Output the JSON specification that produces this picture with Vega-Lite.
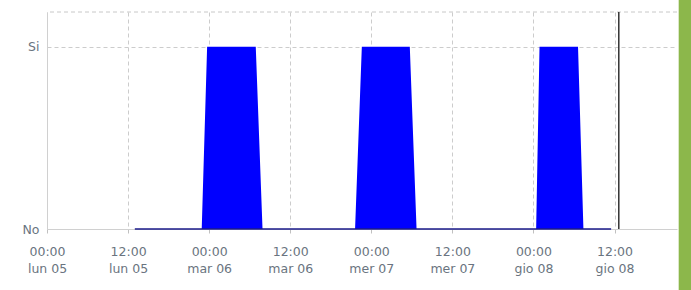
{
  "$schema": "https://vega.github.io/schema/vega-lite/v6.json",
  "autosize": "none",
  "width": 630,
  "height": 217,
  "padding": {"left": 47, "top": 12, "right": 14, "bottom": 61},
  "background": "white",
  "config": {
    "view": {"stroke": null},
    "font": "DejaVu Sans"
  },
  "data": {
    "values": [
      {"t": "2022-09-05T13:00:00Z", "v": 0},
      {"t": "2022-09-05T22:54:00Z", "v": 0},
      {"t": "2022-09-05T23:42:00Z", "v": 1},
      {"t": "2022-09-06T06:54:00Z", "v": 1},
      {"t": "2022-09-06T07:54:00Z", "v": 0},
      {"t": "2022-09-06T21:36:00Z", "v": 0},
      {"t": "2022-09-06T22:36:00Z", "v": 1},
      {"t": "2022-09-07T05:42:00Z", "v": 1},
      {"t": "2022-09-07T06:42:00Z", "v": 0},
      {"t": "2022-09-08T00:24:00Z", "v": 0},
      {"t": "2022-09-08T00:54:00Z", "v": 1},
      {"t": "2022-09-08T06:36:00Z", "v": 1},
      {"t": "2022-09-08T07:24:00Z", "v": 0},
      {"t": "2022-09-08T11:30:00Z", "v": 0}
    ]
  },
  "layer": [
    {
      "mark": {"type": "rect", "color": "#8cb74b", "clip": false},
      "data": {"values": [{"a": "2022-09-08T21:30:00Z", "b": "2022-09-08T23:40:00Z", "y0": -0.4, "y1": 1.3}]},
      "encoding": {
        "x": {"field": "a", "type": "temporal"},
        "x2": {"field": "b"},
        "y": {"field": "y0", "type": "quantitative"},
        "y2": {"field": "y1"}
      }
    },
    {
      "mark": {"type": "rule", "stroke": "#c8c8c8", "strokeDash": [4, 3], "strokeWidth": 1},
      "data": {"values": [{"y": 1.19}]},
      "encoding": {"y": {"field": "y", "type": "quantitative", "scale": {"domain": [0, 1.19]}}}
    },
    {
      "mark": {"type": "area", "color": "#0000ff", "interpolate": "linear", "fillOpacity": 1},
      "encoding": {
        "x": {
          "field": "t",
          "type": "temporal",
          "scale": {"type": "utc", "domain": ["2022-09-05T00:00:00Z", "2022-09-08T21:15:00Z"]},
          "axis": {
            "title": null,
            "values": [
              {"year": 2022, "month": 9, "date": 5, "hours": 0, "utc": true},
              {"year": 2022, "month": 9, "date": 5, "hours": 12, "utc": true},
              {"year": 2022, "month": 9, "date": 6, "hours": 0, "utc": true},
              {"year": 2022, "month": 9, "date": 6, "hours": 12, "utc": true},
              {"year": 2022, "month": 9, "date": 7, "hours": 0, "utc": true},
              {"year": 2022, "month": 9, "date": 7, "hours": 12, "utc": true},
              {"year": 2022, "month": 9, "date": 8, "hours": 0, "utc": true},
              {"year": 2022, "month": 9, "date": 8, "hours": 12, "utc": true}
            ],
            "labelExpr": "[utcFormat(datum.value, '%H:%M'), ['dom','lun','mar','mer','gio','ven','sab'][utcday(datum.value)] + ' ' + utcFormat(datum.value, '%d')]",
            "labelFont": "DejaVu Sans",
            "labelFontSize": 12.5,
            "labelColor": "#6a7480",
            "labelPadding": 12,
            "labelLineHeight": 17,
            "labelFlush": false,
            "grid": true,
            "gridColor": "#cccccc",
            "gridDash": [4, 3],
            "domainColor": "#d0d0d0",
            "tickColor": "#c0c0c0",
            "tickSize": 4
          }
        },
        "y": {
          "field": "v",
          "type": "quantitative",
          "scale": {"domain": [0, 1.19], "nice": false},
          "axis": {
            "title": null,
            "values": [0, 1],
            "labelExpr": "datum.value == 1 ? 'Si' : 'No'",
            "labelFont": "DejaVu Sans",
            "labelFontSize": 12.5,
            "labelColor": "#6a7480",
            "labelPadding": 8,
            "grid": true,
            "gridColor": "#cccccc",
            "gridDash": [4, 3],
            "domainColor": "#d0d0d0",
            "ticks": false
          }
        }
      }
    },
    {
      "mark": {"type": "line", "color": "#1a1a8a", "strokeWidth": 1.5},
      "transform": [{"filter": "datum.v == 0"}],
      "encoding": {
        "x": {"field": "t", "type": "temporal"},
        "y": {"field": "v", "type": "quantitative"}
      }
    },
    {
      "mark": {"type": "rule", "color": "#333333", "strokeWidth": 1.5},
      "data": {"values": [{"now": "2022-09-08T12:38:00Z"}]},
      "encoding": {"x": {"field": "now", "type": "temporal"}}
    }
  ]
}
